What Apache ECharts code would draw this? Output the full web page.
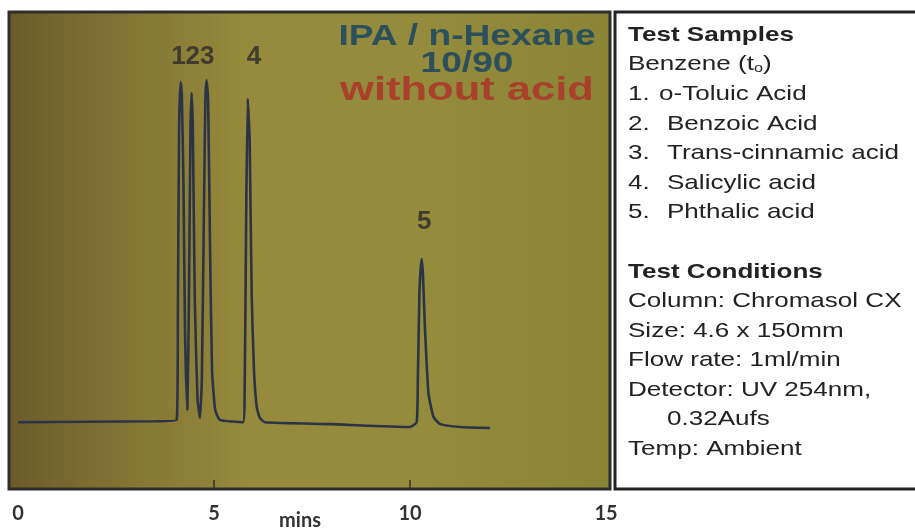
<!DOCTYPE html>
<html>
<head>
<meta charset="utf-8">
<script src="https://cdn.jsdelivr.net/npm/echarts@6/dist/echarts.min.js"></script>
<style>
html,body{margin:0;padding:0;background:#fff;}
#chart{width:915px;height:529px;}
</style>
</head>
<body>
<div id="chart"></div>
<script>
// Chromatogram trace (time in minutes, detector signal in % of full scale)
const times = [0, 3.5, 4.05, 4.08, 4.11, 4.15, 4.18, 4.22, 4.26, 4.32,
  4.36, 4.40, 4.43, 4.46, 4.51, 4.58, 4.64, 4.69, 4.74, 4.78,
  4.81, 4.85, 4.90, 4.95, 5.03, 5.15, 5.74, 5.78, 5.82, 5.86,
  5.91, 5.96, 6.02, 6.09, 6.17, 6.30, 7.96, 10.0, 10.17, 10.20,
  10.24, 10.27, 10.30, 10.33, 10.38, 10.47, 10.60, 10.77, 11.28, 12.04];
const signal = [14.0, 14.2, 14.5, 39.6, 75.9, 85.3, 82.6, 64.8, 33.3, 16.6,
  39.6, 75.3, 83.0, 75.3, 39.6, 18.7, 14.9, 22.9, 56.4, 81.6,
  85.7, 81.6, 50.1, 24.9, 16.6, 14.5, 14.0, 18.7, 56.4, 81.8,
  73.2, 41.1, 24.9, 17.2, 14.9, 14.0, 13.6, 13.0, 14.0, 22.9,
  41.1, 45.9, 48.2, 44.9, 34.0, 20.1, 15.1, 13.6, 13.0, 12.8];

// Peak labels
const peakLabels = ['123', '4', '5'];
const peakLabelTimes = [4.46, 6.02, 10.36];
const peakLabelLevels = [90.6, 90.6, 56.0];

// Axis ticks
const xTicks = [0, 5, 10, 15];
const innerTickTimes = [5, 10];
const xAxisName = 'mins';

// Annotations
const mobilePhase = ['IPA / n-Hexane', '10/90'];
const additive = 'without acid';

// Side panel text
const samplesTitle = 'Test Samples';
const deadTimeMarker = 'Benzene (t{s|o})';
const sampleNumbers = ['1.', '2.', '3.', '4.', '5.'];
const sampleNames = ['o-Toluic Acid', 'Benzoic Acid', 'Trans-cinnamic acid', 'Salicylic acid', 'Phthalic acid'];
const conditionsTitle = 'Test Conditions';
const conditionLines = ['Column: Chromasol CX', 'Size: 4.6 x 150mm', 'Flow rate: 1ml/min', 'Detector: UV 254nm,', '0.32Aufs', 'Temp: Ambient'];

const chart = echarts.init(document.getElementById('chart'), null, {renderer: 'canvas'});

const traceData = times.map((t, i) => [t, signal[i]]);
const labelData = peakLabels.map((l, i) => ({value: [peakLabelTimes[i], peakLabelLevels[i]], name: l}));
const tickData = innerTickTimes.map(t => [t, 0]);

const PF = '"Liberation Sans", Arial, sans-serif';
const SX = 1.24;
function ptxt(text, x, y, bold, extra) {
  return Object.assign({
    type: 'text', x: x, y: y, scaleX: SX, z: 10,
    style: {
      text: text, fill: '#222',
      font: (bold ? 'bold ' : '') + '21px ' + PF,
      textAlign: 'left', textVerticalAlign: 'middle',
      align: 'left', verticalAlign: 'middle'
    }
  }, extra || {});
}

const graphics = [];
// plot photo box
graphics.push({
  type: 'rect', z: -5,
  shape: {x: 9, y: 12, width: 601, height: 477},
  style: {
    fill: new echarts.graphic.LinearGradient(0, 0, 1, 0, [
      {offset: 0, color: '#6a5a2b'},
      {offset: 0.12, color: '#7b6b31'},
      {offset: 0.4, color: '#968b3c'},
      {offset: 0.7, color: '#948b3c'},
      {offset: 1, color: '#8a8536'}
    ]),
    stroke: '#2e2e2a', lineWidth: 3
  }
});
// side panel box
graphics.push({
  type: 'rect', z: -5,
  shape: {x: 615, y: 12, width: 310, height: 477},
  style: {fill: '#ffffff', stroke: '#222', lineWidth: 3}
});
// mobile phase annotations
const annY = [37, 64];
mobilePhase.forEach((t, i) => {
  graphics.push({
    type: 'text', x: 467, y: annY[i], scaleX: 1.28, z: 10,
    style: {text: t, fill: '#2c4f5c', font: 'bold 29px ' + PF,
      textAlign: 'center', textVerticalAlign: 'middle', align: 'center', verticalAlign: 'middle'}
  });
});
graphics.push({
  type: 'text', x: 467, y: 91, scaleX: 1.28, z: 10,
  style: {text: additive, fill: '#a8402c', font: 'bold 34px ' + PF,
    textAlign: 'center', textVerticalAlign: 'middle', align: 'center', verticalAlign: 'middle'}
});
// side panel text
graphics.push(ptxt(samplesTitle, 628, 35, true));
graphics.push({
  type: 'text', x: 628, y: 64, scaleX: SX, z: 10,
  style: {
    text: deadTimeMarker, fill: '#222', font: '21px ' + PF,
    textAlign: 'left', textVerticalAlign: 'middle', align: 'left', verticalAlign: 'middle',
    rich: {s: {fontSize: 13, fontFamily: 'Liberation Sans', fill: '#222', verticalAlign: 'bottom', lineHeight: 10, padding: [10, 0, 0, 0]}}
  }
});
const sampleY = [94, 124, 153, 183, 212];
sampleNumbers.forEach((n, i) => {
  graphics.push(ptxt(n, 628, sampleY[i], false));
  graphics.push(ptxt(sampleNames[i], i === 0 ? 659 : 667, sampleY[i], false));
});
graphics.push(ptxt(conditionsTitle, 628, 272, true));
const condY = [301, 331, 360, 390, 419, 449];
conditionLines.forEach((c, i) => {
  graphics.push(ptxt(c, i === 4 ? 667 : 628, condY[i], false));
});

const option = {
  animation: false,
  backgroundColor: '#ffffff',
  grid: {left: 18, right: 309, top: 12, bottom: 40, containLabel: false, outerBoundsMode: 'none'},
  xAxis: {
    type: 'value', min: xTicks[0], max: xTicks[xTicks.length - 1], interval: 5,
    name: xAxisName, nameLocation: 'middle', nameGap: 22, nameMoveOverlap: false,
    nameTextStyle: {fontFamily: 'Lato', fontWeight: 'bold', fontSize: 20, color: '#333', padding: [0, 24, 0, 0], verticalAlign: 'top'},
    axisLine: {show: false},
    axisTick: {show: false},
    splitLine: {show: false},
    axisLabel: {fontFamily: 'Lato', fontWeight: 'bold', fontSize: 20, color: '#333', margin: 15}
  },
  yAxis: {type: 'value', min: 0, max: 100, show: false},
  graphic: {elements: graphics},
  series: [
    {
      type: 'line', data: traceData, showSymbol: false, symbol: 'none',
      smooth: 0.15, z: 5,
      lineStyle: {color: '#2b3446', width: 2.6},
      silent: true
    },
    {
      // small tick marks on the inside of the bottom frame at 5 and 10 min
      type: 'scatter', data: tickData, z: 6, silent: true, clip: false,
      symbol: 'rect', symbolSize: [2, 9], symbolOffset: [0, -4.5],
      itemStyle: {color: '#34342a'}
    },
    {
      type: 'scatter', data: labelData, symbolSize: 0, z: 6, silent: true,
      label: {show: true, position: 'inside', formatter: p => p.name,
        fontFamily: PF, fontWeight: 'bold', fontSize: 26, color: '#2a2a2a'}
    }
  ]
};
chart.setOption(option);
</script>
</body>
</html>
